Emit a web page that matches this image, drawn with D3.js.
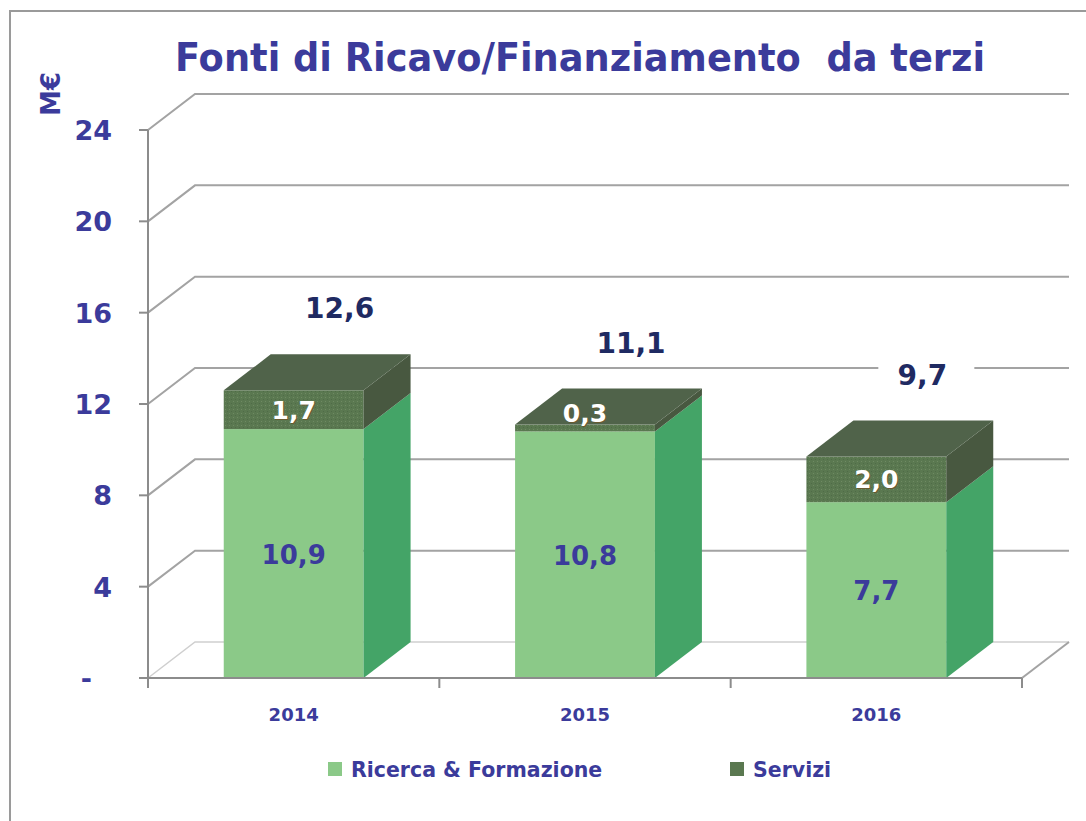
<!DOCTYPE html>
<html lang="it">

<head>
    <meta charset="UTF-8">
    <title>Fonti di Ricavo/Finanziamento da terzi</title>
    <script src="https://cdn.jsdelivr.net/npm/d3@7"></script>
    <style>
        body {
            margin: 0;
            background-color: #fff;
        }

        svg {
            display: block;
            font-family: "DejaVu Sans", Verdana, sans-serif;
        }
    </style>
</head>

<body>
    <script>
        // data (M€)
        var years = ["2014", "2015", "2016"];
        var ricerca = [10.9, 10.8, 7.7];
        var servizi = [1.7, 0.3, 2.0];
        var totals = [12.6, 11.1, 9.7];
        var yTicks = [0, 4, 8, 12, 16, 20, 24];
        var yTickLabels = ["-", "4", "8", "12", "16", "20", "24"];
        var legendNames = ["Ricerca & Formazione", "Servizi"];

        var width = 1086,
            height = 821;
        var depthX = 47,
            depthY = -36; // 3d offset of the back wall
        var navy = "#3b3b9b";

        var fmt = d3.formatLocale({ decimal: ",", thousands: ".", grouping: [3], currency: ["", "€"] }).format(".1f");

        var svg = d3.select("body").append("svg")
            .attr("width", width)
            .attr("height", height);

        // dotted texture of the Servizi front face
        var pat = svg.append("defs").append("pattern")
            .attr("id", "dots")
            .attr("width", 4)
            .attr("height", 4)
            .attr("patternUnits", "userSpaceOnUse");
        pat.append("rect").attr("width", 4).attr("height", 4).attr("fill", "#5a7850");
        pat.append("rect").attr("x", 1).attr("y", 1).attr("width", 1).attr("height", 1).attr("fill", "#6f8a63");
        pat.append("rect").attr("x", 3).attr("y", 3).attr("width", 1).attr("height", 1).attr("fill", "#4f6b47");

        // frame
        svg.append("path")
            .attr("d", "M10," + height + "V11H" + width)
            .attr("fill", "none")
            .attr("stroke", "#9a9a9a")
            .attr("stroke-width", 2);

        var y = d3.scaleLinear().domain([0, 24]).range([678, 130]);
        var x = d3.scaleBand().domain(years).range([148, 1022]).paddingInner(0).paddingOuter(0);
        var barW = x.bandwidth() * 0.48;
        var x0 = y.range()[0];

        // back wall grid lines
        var grid = svg.append("g");
        grid.selectAll("path.grid")
            .data(yTicks.filter(function (d) { return d > 0; }))
            .enter()
            .append("path")
            .attr("class", "grid")
            .attr("d", function (d) {
                return "M148," + y(d) + "L" + (148 + depthX) + "," + (y(d) + depthY) + "H" + (1022 + depthX);
            })
            .attr("fill", "none")
            .attr("stroke", "#a3a3a3")
            .attr("stroke-width", 2);

        // floor
        grid.append("path")
            .attr("d", "M148," + x0 + "L" + (148 + depthX) + "," + (x0 + depthY) + "H" + (1022 + depthX))
            .attr("fill", "none")
            .attr("stroke", "#cfcfcf")
            .attr("stroke-width", 1.5);
        grid.append("path")
            .attr("d", "M1022," + x0 + "L" + (1022 + depthX) + "," + (x0 + depthY))
            .attr("fill", "none")
            .attr("stroke", "#a3a3a3")
            .attr("stroke-width", 2);

        // bars
        var bars = svg.append("g").selectAll("g")
            .data(years)
            .enter()
            .append("g");

        function box(g, xl, yb, yt, front, side, top) {
            var xr = xl + barW;
            g.append("rect")
                .attr("x", xl).attr("y", yt)
                .attr("width", barW).attr("height", yb - yt)
                .attr("fill", front);
            g.append("path")
                .attr("d", "M" + xr + "," + yt + "L" + (xr + depthX) + "," + (yt + depthY) +
                    "L" + (xr + depthX) + "," + (yb + depthY) + "L" + xr + "," + yb + "Z")
                .attr("fill", side);
            if (top) {
                g.append("path")
                    .attr("d", "M" + xl + "," + yt + "L" + (xl + depthX) + "," + (yt + depthY) +
                        "H" + (xr + depthX) + "L" + xr + "," + yt + "Z")
                    .attr("fill", top);
            }
        }

        bars.each(function (d, i) {
            var g = d3.select(this);
            var xl = x(d) + (x.bandwidth() - barW) / 2;
            box(g, xl, y(0), y(ricerca[i]), "#8bc988", "#44a467", null);
            box(g, xl, y(ricerca[i]), y(ricerca[i] + servizi[i]), "url(#dots)", "#485840", "#50634a");
        });

        // middle of the Servizi segment, or just above it when it is too thin
        function serviziLabelY(i) {
            var top = y(ricerca[i] + servizi[i]),
                bot = y(ricerca[i]);
            return bot - top < 24 ? top - 12 : (top + bot) / 2;
        }

        // segment labels
        bars.append("text")
            .attr("x", function (d) { return x(d) + x.bandwidth() / 2; })
            .attr("y", function (d, i) { return y(ricerca[i] / 2) + 10; })
            .attr("text-anchor", "middle")
            .attr("font-size", 26)
            .attr("font-weight", "bold")
            .attr("fill", navy)
            .text(function (d, i) { return fmt(ricerca[i]); });

        bars.append("text")
            .attr("x", function (d) { return x(d) + x.bandwidth() / 2 + 1; })
            .attr("y", function (d, i) { return serviziLabelY(i) + 10; })
            .attr("text-anchor", "middle")
            .attr("font-size", 25)
            .attr("font-weight", "bold")
            .attr("fill", "#6a5a30")
            .text(function (d, i) { return fmt(servizi[i]); });
        bars.append("text")
            .attr("x", function (d) { return x(d) + x.bandwidth() / 2; })
            .attr("y", function (d, i) { return serviziLabelY(i) + 9; })
            .attr("text-anchor", "middle")
            .attr("font-size", 25)
            .attr("font-weight", "bold")
            .attr("fill", "#fff")
            .text(function (d, i) { return fmt(servizi[i]); });

        // totals, on a white box over the grid
        var tot = svg.append("g").selectAll("g")
            .data(years)
            .enter()
            .append("g")
            .attr("transform", function (d, i) {
                return "translate(" + (x(d) + x.bandwidth() / 2 + 46) + "," + (y(totals[i]) - 82) + ")";
            });
        tot.append("rect")
            .attr("x", -44).attr("y", -22)
            .attr("width", 96).attr("height", 46)
            .attr("fill", "#fff");
        tot.append("text")
            .attr("y", 10)
            .attr("text-anchor", "middle")
            .attr("font-size", 28)
            .attr("font-weight", "bold")
            .attr("fill", "#1f2a62")
            .text(function (d, i) { return fmt(totals[i]); });

        // y axis
        var yAxis = svg.append("g");
        yAxis.append("line")
            .attr("x1", 148).attr("x2", 148)
            .attr("y1", y(24)).attr("y2", y(0) + 2)
            .attr("stroke", "#8c8c8c").attr("stroke-width", 2);
        yAxis.selectAll("line.tick")
            .data(yTicks)
            .enter()
            .append("line")
            .attr("class", "tick")
            .attr("x1", 139).attr("x2", 148)
            .attr("y1", function (d) { return y(d); })
            .attr("y2", function (d) { return y(d); })
            .attr("stroke", "#8c8c8c").attr("stroke-width", 2);
        yAxis.selectAll("text")
            .data(yTicks)
            .enter()
            .append("text")
            .attr("x", function (d) { return d === 0 ? 92 : 112; })
            .attr("y", function (d) { return y(d) + 10; })
            .attr("text-anchor", "end")
            .attr("font-size", 27)
            .attr("font-weight", "bold")
            .attr("fill", navy)
            .text(function (d, i) { return yTickLabels[i]; });

        // x axis (front edge of the floor)
        var xAxis = svg.append("g");
        xAxis.append("line")
            .attr("x1", 148).attr("x2", 1022)
            .attr("y1", x0).attr("y2", x0)
            .attr("stroke", "#8c8c8c").attr("stroke-width", 2);
        xAxis.selectAll("line.tick")
            .data(years.concat(["end"]))
            .enter()
            .append("line")
            .attr("class", "tick")
            .attr("x1", function (d) { return d === "end" ? 1022 : x(d); })
            .attr("x2", function (d) { return d === "end" ? 1022 : x(d); })
            .attr("y1", x0).attr("y2", x0 + 10)
            .attr("stroke", "#8c8c8c").attr("stroke-width", 2);
        xAxis.selectAll("text")
            .data(years)
            .enter()
            .append("text")
            .attr("x", function (d) { return x(d) + x.bandwidth() / 2; })
            .attr("y", 721)
            .attr("text-anchor", "middle")
            .attr("font-size", 18)
            .attr("font-weight", "bold")
            .attr("fill", navy)
            .text(function (d) { return d; });

        // title and unit
        svg.append("text")
            .attr("x", 175)
            .attr("y", 71)
            .attr("textLength", 810)
            .attr("lengthAdjust", "spacingAndGlyphs")
            .attr("font-size", 39)
            .attr("font-weight", "bold")
            .attr("fill", navy)
            .style("white-space", "pre")
            .text("Fonti di Ricavo/Finanziamento  da terzi");

        svg.append("text")
            .attr("transform", "translate(60,94) rotate(-90)")
            .attr("text-anchor", "middle")
            .attr("font-size", 26)
            .attr("font-weight", "bold")
            .attr("fill", navy)
            .text("M€");

        // legend
        var legendX = [328, 730];
        var legendColors = ["#8bc988", "#5a7850"];
        var legend = svg.append("g").selectAll("g")
            .data(legendNames)
            .enter()
            .append("g")
            .attr("transform", function (d, i) { return "translate(" + legendX[i] + ",762)"; });
        legend.append("rect")
            .attr("width", 14).attr("height", 14)
            .attr("fill", function (d, i) { return legendColors[i]; });
        legend.append("text")
            .attr("x", 23)
            .attr("y", 15)
            .attr("font-size", 20.5)
            .attr("font-weight", "bold")
            .attr("fill", navy)
            .text(function (d) { return d; });
    </script>
</body>

</html>
